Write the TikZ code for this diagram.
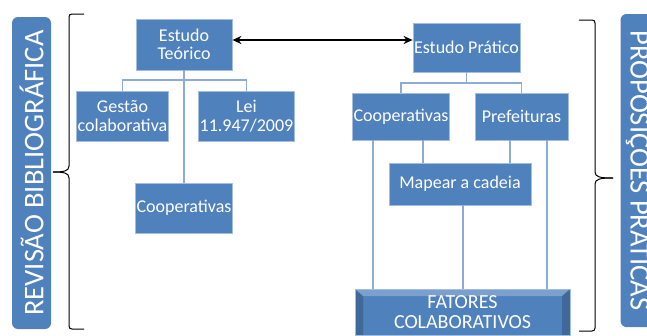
\documentclass[tikz,border=0pt]{standalone}
\usepackage{fontspec}
\setmainfont{Carlito}
\usetikzlibrary{arrows.meta}
\definecolor{boxblue}{HTML}{4F81BD}
\definecolor{boxedge}{HTML}{A3BDDF}
\definecolor{linkblue}{HTML}{8EAAD6}
\begin{document}
\begin{tikzpicture}[x=1pt,y=1pt,
  box/.style={draw=boxedge, line width=0.8pt, fill=boxblue, text=white, align=center, inner sep=1pt, font=\fontsize{18}{18.5}\selectfont},
  sidebar/.style={fill=boxblue, rounded corners=6pt, text=white, inner sep=0pt, font=\fontsize{28.5}{30}\selectfont},
  link/.style={draw=linkblue, line width=1.1pt},
  brace/.style={draw=black, line width=1pt},
  bevel/.style={path picture={
    \fill[white,opacity=.25] (path picture bounding box.north west) -- (path picture bounding box.north east)
      -- ([xshift=-8pt,yshift=-7pt]path picture bounding box.north east) -- ([xshift=8pt,yshift=-7pt]path picture bounding box.north west) -- cycle;
    \fill[black,opacity=.18] (path picture bounding box.north west) -- ([xshift=8pt,yshift=-7pt]path picture bounding box.north west)
      -- ([xshift=8pt]path picture bounding box.south west) -- (path picture bounding box.south west) -- cycle;
    \fill[black,opacity=.18] (path picture bounding box.north east) -- ([xshift=-8pt,yshift=-7pt]path picture bounding box.north east)
      -- ([xshift=-8pt]path picture bounding box.south east) -- (path picture bounding box.south east) -- cycle;
  }}]
\clip (0,0) rectangle (647,-335);

% side bars
\node[sidebar, rotate=90, minimum width=312, minimum height=39] (revisao) at (31.5,-173) {REVISÃO BIBLIOGRÁFICA};
\node[sidebar, rotate=-90, minimum width=313, minimum height=39] (proposicoes) at (640,-170.5) {PROPOSIÇÕES PRÁTICAS};

% braces
\draw[brace] (84,-14) -- (72,-14) .. controls (70,-14) and (69,-15) .. (69,-17) -- (69,-166) .. controls (69,-171) and (64,-172) .. (53,-172);
\draw[brace] (84,-329) -- (72,-329) .. controls (70,-329) and (69,-328) .. (69,-326) -- (69,-178) .. controls (69,-173) and (64,-172) .. (53,-172);
\draw[brace] (579,-20) -- (592,-20) .. controls (594,-20) and (595,-21) .. (595,-23) -- (595,-172) .. controls (595,-177) and (600,-178) .. (613,-178);
\draw[brace] (579,-331) -- (592,-331) .. controls (594,-331) and (595,-330) .. (595,-328) -- (595,-184) .. controls (595,-179) and (600,-178) .. (613,-178);

% theory side
\node[box, minimum width=96, minimum height=51] (teo) at (184,-44.5) {Estudo\\Teórico};
\node[box, minimum width=91, minimum height=50] (gest) at (122.5,-116) {Gestão\\colaborativa};
\node[box, minimum width=95, minimum height=50] (lei) at (246.5,-116) {Lei\\11.947/2009};
\node[box, minimum width=96, minimum height=50] (coopL) at (184,-208) {Cooperativas};
\coordinate (teoj) at (184,-80);
\draw[link] (gest.north) |- (teoj) -| (lei.north);
\draw[link] (teo.south) -- (coopL.north);

% practice side
\node[box, minimum width=107, minimum height=49] (prat) at (466.5,-47.5) {Estudo Prático};
\node[box, minimum width=92, minimum height=47] (coopR) at (401,-116.5) {Cooperativas};
\node[box, minimum width=93, minimum height=47] (pref) at (521.5,-116.5) {Prefeituras};
\node[box, minimum width=142, minimum height=42] (mapa) at (460,-184) {Mapear a cadeia};
\node[box, bevel, minimum width=215, minimum height=46, font=\fontsize{20}{20.5}\selectfont] (fat) at (462.5,-312) {FATORES\\COLABORATIVOS};
\coordinate (pratj) at (466.5,-83);
\draw[link] (prat.south) -- (pratj);
\draw[link] (coopR.north) |- (pratj) -| (pref.north);
\draw[link] (coopR.south -| 423,0) -- (mapa.north -| 423,0);
\draw[link] (pref.south -| 510,0) -- (mapa.north -| 510,0);
\draw[link] (coopR.south -| 373,0) -- (fat.north -| 373,0);
\draw[link] (pref.south -| 547,0) -- (fat.north -| 547,0);
\draw[link] (mapa.south -| 463,0) -- (fat.north -| 463,0);

% link between studies
\draw[line width=1.8pt, {Stealth[length=9pt,width=8pt]}-{Stealth[length=9pt,width=8pt]}] (teo.east |- 0,-40) -- (prat.west |- 0,-40);
\end{tikzpicture}
\end{document}
